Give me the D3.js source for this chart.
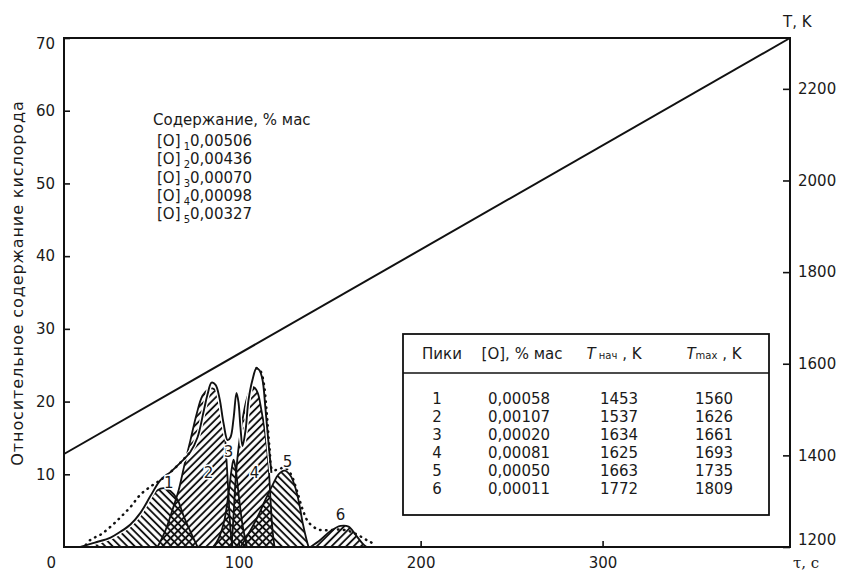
<!DOCTYPE html>
<html>
<head>
<meta charset="utf-8">
<title>oxygen-peaks</title>
<style>
body { margin: 0; background: #fff; font-family: "DejaVu Sans", sans-serif; }
svg text { fill: #1a1a1a; }
.frame { fill: none; stroke: #111; stroke-width: 2; }
.ramp { fill: none; stroke: #111; stroke-width: 2; }
.peak { stroke: #111; stroke-width: 1.8; }
.halo { fill: none; stroke: #fff; stroke-width: 4.5; }
.envelope { fill: none; stroke: #111; stroke-width: 1.9; }
.dotted { fill: none; stroke: #111; stroke-width: 2.5; stroke-linecap: round; stroke-dasharray: 0.5 5.5; }
.axis path { display: none; }
.axis line { stroke: #111; stroke-width: 1.6; }
.axis text { font-size: 15px; }
</style>
</head>
<body>
<script src="https://cdn.jsdelivr.net/npm/d3@7"></script>
<script>
// tick values on the three scales
var tauTicks = [0, 100, 200, 300];
var oTicks = [10, 20, 30, 40, 50, 60, 70];
var tTicks = [1200, 1400, 1600, 1800, 2000, 2200];

// linear heating: time (s) vs temperature (K)
var rampTau = [4, 403];
var rampT = [1403, 2311];

// separated peaks (relative oxygen content vs time)
var peak1Tau = [13, 21, 29.6, 35, 40.5, 46, 51.5, 55.4, 58.7, 62.5, 66.4, 69.7, 73.5, 77.4];
var peak1Val = [0, 0.5, 1.2, 2.0, 3.0, 4.5, 6.7, 7.8, 8.1, 7.7, 6.5, 4.3, 2.1, 0];
var peak2Tau = [55.4, 59.8, 63.6, 67, 70.2, 73.5, 76.8, 80.1, 83.4, 85.6, 88.4, 90.6, 92.2, 93.3, 94.4, 95.5, 96.6];
var peak2Val = [0, 2.3, 5.1, 7.8, 11.3, 14.7, 18.2, 20.8, 21.7, 21.8, 21.2, 19.1, 16.1, 12.0, 7.2, 2.3, 0];
var peak3Tau = [86, 89, 92, 94.5, 96.2, 97.2, 98.3, 100, 102, 104.5];
var peak3Val = [0, 1.2, 3.5, 7.5, 10.8, 12, 10.8, 7.2, 3.2, 0];
var peak4Tau = [96.1, 97.2, 98.3, 99.9, 102.1, 104.3, 106.5, 108.1, 110.3, 112.5, 114.7, 116.4, 117.5, 118.6, 119.7];
var peak4Val = [0, 4.4, 9.2, 13.6, 17.5, 20.2, 21.7, 22, 21.3, 18.8, 15.4, 11.3, 6.5, 2.3, 0];
var peak5Tau = [101, 106.5, 110.9, 114.7, 118.6, 121.9, 125.2, 128.5, 131.2, 133.4, 135.1, 137.3, 138.4];
var peak5Val = [0, 2.3, 4.4, 6.5, 8.5, 10, 10.5, 9.8, 8.1, 5.8, 3.4, 1, 0];
var peak6Tau = [139.5, 145, 150.5, 156, 160.4, 164.2, 168, 170.3];
var peak6Val = [0, 1.0, 2.2, 2.9, 2.8, 1.7, 0.5, 0];

// measured curve (solid)
var envTau = [13, 21, 29.6, 35, 40.5, 46, 51.5, 57, 62.5, 68, 73.5, 77.4, 80.7, 82.9, 85.1, 87.3, 89.5, 91.7, 93.9, 95.5, 97.2, 98.8, 99.9, 101, 102.1, 103.8, 105.4, 107.6, 109.8, 111.4, 113.1, 114.7, 116.4, 118];
var envVal = [0, 0.6, 1.3, 2.1, 3.1, 4.7, 7.0, 9.2, 10.3, 11.6, 13.1, 15.1, 18.6, 21, 22.6, 22.3, 20.4, 17, 14.7, 15.1, 17.7, 21.2, 19.9, 16.4, 13.9, 16.1, 20.2, 23, 24.6, 24.3, 23, 19.1, 14.3, 10.2];

// summed curve (dotted), visible on both flanks
var dotLeftTau = [16, 18.6, 24.1, 29.6, 35.1, 40.5, 46, 52.6, 57, 62.5, 68, 73.5];
var dotLeftVal = [0.3, 1.0, 1.7, 2.8, 4.1, 5.5, 7.2, 8.5, 9.2, 10.3, 11.6, 13.1];
var dotRightTau = [109.8, 112, 113.8, 115.4, 117, 118.6, 121.9, 125.2, 128.5, 131.8, 135.1, 138.4, 143.9, 149.4, 154.9, 160.4, 165.9, 171.4, 175.8];
var dotRightVal = [24.6, 24.2, 22.5, 18.5, 13.5, 10.6, 10.7, 10.9, 10.1, 7.9, 5.2, 3.4, 2.4, 2.3, 2.4, 2.2, 1.6, 0.8, 0.3];

// peak numbers, placed in data units
var peakNames = ["1", "2", "3", "4", "5", "6"];
var labelTau = [61.6, 83.4, 94.4, 108.7, 126.8, 156];
var labelVal = [8.8, 10.2, 13.1, 10.2, 11.7, 4.4];

// total content block
var contentIdx = ["1", "2", "3", "4", "5"];
var contentVal = ["0,00506", "0,00436", "0,00070", "0,00098", "0,00327"];

// table of peaks
var tablePeak = ["1", "2", "3", "4", "5", "6"];
var tableO = ["0,00058", "0,00107", "0,00020", "0,00081", "0,00050", "0,00011"];
var tableTStart = ["1453", "1537", "1634", "1625", "1663", "1772"];
var tableTMax = ["1560", "1626", "1661", "1693", "1735", "1809"];

var totalWidth = 842, totalHeight = 572;
var margin = { top: 38, right: 52, bottom: 25, left: 64 };
var width = totalWidth - margin.left - margin.right,
    height = totalHeight - margin.top - margin.bottom;

var root = d3.select("body").append("svg")
    .attr("width", totalWidth)
    .attr("height", totalHeight);
var svg = root.append("g")
    .attr("transform", "translate(" + margin.left + "," + margin.top + ")");

var x = d3.scaleLinear().domain([4, 403]).range([0, width]);
var y = d3.scaleLinear().domain([0, 70]).range([height, 0]);
var yT = d3.scaleLinear().domain([1200, 2311]).range([height, 0]);

/* hatch patterns: "back" = \\\ , "fwd" = /// */
var defs = root.append("defs");
[["back", -45], ["fwd", 45]].forEach(function (p) {
    defs.append("pattern")
        .attr("id", "hatch-" + p[0])
        .attr("patternUnits", "userSpaceOnUse")
        .attr("width", 5.2).attr("height", 10)
        .attr("patternTransform", "rotate(" + p[1] + ")")
        .append("line")
        .attr("x1", 2.6).attr("y1", 0).attr("x2", 2.6).attr("y2", 10)
        .attr("stroke", "#111").attr("stroke-width", 1.9);
});

var curve = d3.curveCatmullRom.alpha(0.5);
var area = d3.area().curve(curve)
    .x(function (d) { return x(d[0]); })
    .y0(y(0))
    .y1(function (d) { return y(d[1]); });
var line = d3.line().curve(curve)
    .x(function (d) { return x(d[0]); })
    .y(function (d) { return y(d[1]); });

// temperature ramp
svg.append("path")
    .attr("class", "ramp")
    .attr("d", d3.line()
        .x(function (d) { return x(d[0]); })
        .y(function (d) { return yT(d[1]); })(d3.zip(rampTau, rampT)));

// peaks
var peaks = [
    { tau: peak1Tau, val: peak1Val, hatch: "back" },
    { tau: peak2Tau, val: peak2Val, hatch: "fwd" },
    { tau: peak3Tau, val: peak3Val, hatch: "back" },
    { tau: peak4Tau, val: peak4Val, hatch: "fwd" },
    { tau: peak5Tau, val: peak5Val, hatch: "back" },
    { tau: peak6Tau, val: peak6Val, hatch: "fwd" }
];
svg.selectAll(".peak")
    .data(peaks)
    .enter()
    .append("path")
    .attr("class", "peak")
    .attr("fill", function (d) { return "url(#hatch-" + d.hatch + ")"; })
    .attr("d", function (d) { return area(d3.zip(d.tau, d.val)); });

// measured and summed curves
var env = d3.zip(envTau, envVal);
svg.append("path").attr("class", "halo").attr("d", line(env));
svg.append("path").attr("class", "dotted").attr("d", line(d3.zip(dotLeftTau, dotLeftVal)));
svg.append("path").attr("class", "dotted").attr("d", line(d3.zip(dotRightTau, dotRightVal)));
svg.append("path").attr("class", "envelope").attr("d", line(env));

// peak numbers
svg.selectAll(".plabel")
    .data(peakNames)
    .enter()
    .append("text")
    .attr("class", "plabel")
    .attr("x", function (d, i) { return x(labelTau[i]); })
    .attr("y", function (d, i) { return y(labelVal[i]); })
    .attr("dy", "0.36em")
    .attr("text-anchor", "middle")
    .style("font-size", "15px")
    .style("paint-order", "stroke")
    .style("stroke", "#fff")
    .style("stroke-width", 3)
    .text(function (d) { return d; });

// frame
svg.append("rect")
    .attr("class", "frame")
    .attr("x", 0).attr("y", 0)
    .attr("width", width).attr("height", height);

// axes, ticks pointing inward
var axL = svg.append("g").attr("class", "axis")
    .call(d3.axisLeft(y).tickValues(oTicks).tickSize(-6).tickPadding(9));
// top label sits a little below the corner
axL.selectAll(".tick").filter(function (d) { return d === 70; }).select("text").attr("y", 6);

var axB = svg.append("g").attr("class", "axis")
    .attr("transform", "translate(0," + height + ")")
    .call(d3.axisBottom(x).tickValues(tauTicks).tickSize(-6).tickPadding(10));
var zeroTick = axB.selectAll(".tick").filter(function (d) { return d === 0; });
zeroTick.select("line").remove();
zeroTick.select("text").attr("x", -6);

var axR = svg.append("g").attr("class", "axis")
    .attr("transform", "translate(" + width + ",0)")
    .call(d3.axisRight(yT).tickValues(tTicks).tickFormat(d3.format("d")).tickSize(-7).tickPadding(8));
axR.selectAll(".tick").filter(function (d) { return d === 1200; }).select("text").attr("y", -7);

[axL, axB, axR].forEach(function (g) {
    g.attr("font-family", "DejaVu Sans, sans-serif").attr("font-size", 15);
});

// axis titles
svg.append("text")
    .attr("transform", "rotate(-90)")
    .attr("x", -245)
    .attr("y", -margin.left + 23)
    .attr("text-anchor", "middle")
    .style("font-size", "16px")
    .style("letter-spacing", "0.9px")
    .text("Относительное содержание кислорода");

svg.append("text")
    .attr("x", width - 7)
    .attr("y", -11)
    .style("font-size", "15px")
    .text("T, K");

svg.append("text")
    .attr("x", width + 3)
    .attr("y", height + 21)
    .style("font-family", "DejaVu Serif, serif")
    .style("font-size", "15px")
    .text("τ, с");

// content block, upper left
var cont = root.append("g").attr("transform", "translate(153,125)");
cont.append("text").style("font-size", "15px").text("Содержание, % мас");
var rows = cont.selectAll(".crow")
    .data(contentIdx)
    .enter()
    .append("text")
    .attr("class", "crow")
    .attr("x", 4)
    .attr("y", function (d, i) { return 21 + i * 18.3; })
    .style("font-size", "15px");
rows.append("tspan").text("[O]");
rows.append("tspan").attr("dy", 4).style("font-size", "10px").text(function (d) { return " " + d; });
rows.append("tspan").attr("dy", -4).text(function (d, i) { return contentVal[i]; });

// table of peaks
var tbl = root.append("g").attr("transform", "translate(403,334)");
tbl.append("rect")
    .attr("width", 366).attr("height", 181)
    .attr("fill", "#fff").attr("stroke", "#111").attr("stroke-width", 1.8);
tbl.append("line")
    .attr("x1", 0).attr("x2", 366).attr("y1", 39).attr("y2", 39)
    .attr("stroke", "#111").attr("stroke-width", 1.6);

var head = tbl.append("g").style("font-size", "15px").attr("text-anchor", "middle");
head.append("text").attr("x", 39).attr("y", 25).text("Пики");
head.append("text").attr("x", 119).attr("y", 25).text("[O], % мас");
var h3 = head.append("text").attr("x", 211).attr("y", 25);
h3.append("tspan").style("font-style", "italic").text("T");
h3.append("tspan").style("font-size", "10px").text(" нач");
h3.append("tspan").text(" , K");
var h4 = head.append("text").attr("x", 311).attr("y", 25);
h4.append("tspan").style("font-style", "italic").text("T");
h4.append("tspan").style("font-size", "10px").text("max");
h4.append("tspan").text(" , K");

var cols = [tablePeak, tableO, tableTStart, tableTMax];
var colX = [34, 116, 216, 311];
cols.forEach(function (col, c) {
    tbl.selectAll(".col" + c)
        .data(col)
        .enter()
        .append("text")
        .attr("class", "col" + c)
        .attr("x", colX[c])
        .attr("y", function (d, i) { return 70 + i * 17.9; })
        .attr("text-anchor", "middle")
        .style("font-size", "15px")
        .text(function (d) { return d; });
});
</script>
</body>
</html>
